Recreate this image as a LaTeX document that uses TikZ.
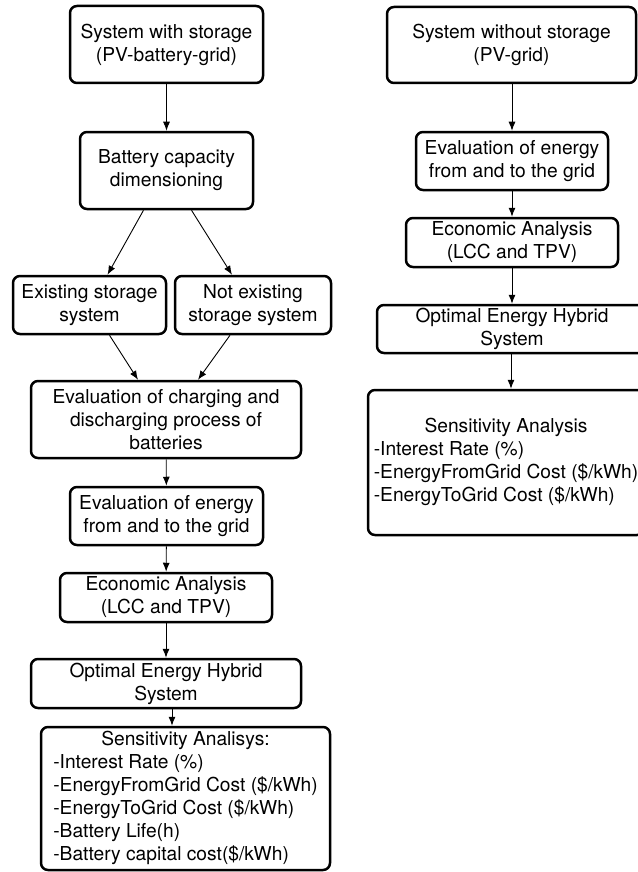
\documentclass[tikz,border=0pt]{standalone}
\usepackage{fontspec}
\setmainfont{TeX Gyre Heros}
\usetikzlibrary{arrows.meta}

\begin{document}
\begin{tikzpicture}[x=1pt, y=-1pt,
	every node/.style={font=\fontsize{19.2}{23}\selectfont},
	stage/.style={draw, line width=2.5pt, rounded corners=7pt, align=center, inner sep=0pt},
	flow/.style={line width=0.9pt, -{Latex[length=9pt,width=7pt]}}]
	\useasboundingbox (0,0) rectangle (637,872);
	% with storage
	\node[stage, minimum width=193pt, minimum height=77pt] (withst) at (166.5,44.5) {System with storage\\(PV-battery-grid)};
	\node[stage, minimum width=173pt, minimum height=77pt] (battcap) at (166.5,170.5) {Battery capacity\\dimensioning};
	\node[stage, minimum width=153pt, minimum height=58pt] (exist) at (89.5,305) {Existing storage\\system};
	\node[stage, minimum width=156pt, minimum height=58pt] (notexist) at (253,305) {Not existing\\storage system};
	\node[stage, minimum width=270pt, minimum height=77pt] (charge) at (166,419.5) {Evaluation of charging and\\discharging process of\\batteries};
	\node[stage, minimum width=193pt, minimum height=58pt] (gridst) at (166.5,516) {Evaluation of energy\\from and to the grid};
	\node[stage, minimum width=212pt, minimum height=49pt] (econst) at (166,597.5) {Economic Analysis\\(LCC and TPV)};
	\node[stage, minimum width=270pt, minimum height=49pt] (optst) at (166,683.5) {Optimal Energy Hybrid\\System};
	\node[stage, minimum width=289pt, minimum height=143pt] (sensst) at (185.5,798.5) {\begin{tabular}{@{}l@{}}\multicolumn{1}{@{}c@{}}{Sensitivity Analisys:}\\-Interest Rate (\%)\\-EnergyFromGrid Cost (\$/kWh)\\-EnergyToGrid Cost (\$/kWh)\\-Battery Life(h)\\-Battery capital cost(\$/kWh)\end{tabular}};
	\draw[flow] (withst) -- (battcap);
	\draw[flow] ([xshift=-23pt]battcap.south) -- ([xshift=18pt]exist.north);
	\draw[flow] ([xshift=25pt]battcap.south) -- ([xshift=-21pt]notexist.north);
	\draw[flow] ([xshift=20pt]exist.south) -- ([xshift=-28pt]charge.north);
	\draw[flow] ([xshift=-23pt]notexist.south) -- ([xshift=32pt]charge.north);
	\draw[flow] (charge) -- (gridst);
	\draw[flow] (gridst) -- (econst);
	\draw[flow] (econst) -- (optst);
	\draw[flow] ([xshift=6pt]optst.south) -- ([xshift=6pt]optst.south |- sensst.north);
	% without storage
	\node[stage, minimum width=249pt, minimum height=76pt] (withoutst) at (511.5,45) {System without storage\\(PV-grid)};
	\node[stage, minimum width=192pt, minimum height=58pt] (gridns) at (512,161) {Evaluation of energy\\from and to the grid};
	\node[stage, minimum width=212pt, minimum height=49pt] (econns) at (512,242.5) {Economic Analysis\\(LCC and TPV)};
	\node[stage, minimum width=270pt, minimum height=48pt] (optns) at (512,329) {Optimal Energy Hybrid\\System};
	\node[stage, minimum width=276pt, minimum height=145pt] (sensns) at (506,462.5) {\begin{tabular}{@{}l@{}}\multicolumn{1}{@{}c@{}}{Sensitivity Analysis}\\-Interest Rate (\%)\\-EnergyFromGrid Cost (\$/kWh)\\-EnergyToGrid Cost (\$/kWh)\end{tabular}};
	\draw[flow] (withoutst.south -| gridns) -- (gridns);
	\draw[flow] (gridns) -- (econns);
	\draw[flow] (econns) -- (optns);
	\draw[flow] ([xshift=-1pt]optns.south) -- ([xshift=-1pt]optns.south |- sensns.north);
\end{tikzpicture}
\end{document}
